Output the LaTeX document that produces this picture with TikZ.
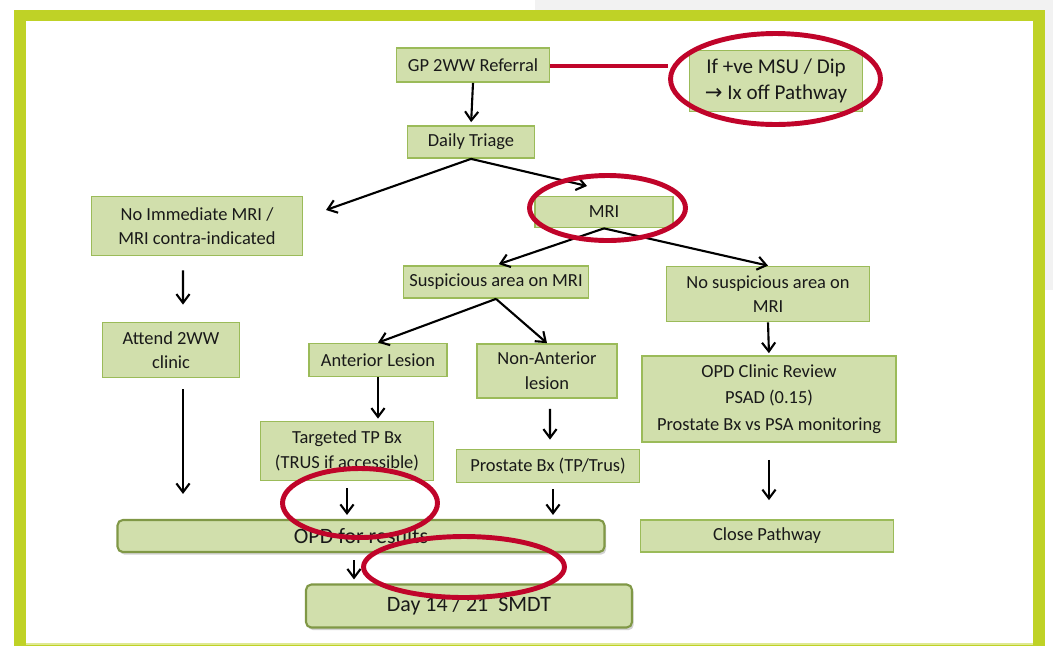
\documentclass[tikz,border=0pt]{standalone}
\usepackage{fontspec}
\setmainfont{Carlito}
\newfontfamily\arrowfont{DejaVu Sans}
\usetikzlibrary{positioning,calc,arrows.meta,shapes.geometric,shadows}

\definecolor{boxfill}{RGB}{209,223,172}
\definecolor{boxline}{RGB}{155,187,89}
\definecolor{boxdark}{RGB}{128,152,70}
\definecolor{frameg}{RGB}{191,210,38}
\definecolor{ringred}{RGB}{192,4,42}
\definecolor{pagegray}{RGB}{242,242,242}

\tikzset{
  box/.style={draw=boxline, fill=boxfill, line width=1pt, inner sep=0pt, align=center,
    text=black!90, font=\fontsize{10.5}{14}\selectfont},
  bigbox/.style={box, rounded corners=3pt, draw=boxdark, line width=1.2pt,
    font=\fontsize{12.5}{15}\selectfont,
    drop shadow={opacity=0.35, shadow xshift=1pt, shadow yshift=-1.5pt}},
  arr/.style={-{Straight Barb[length=5pt,width=7.5pt]}, line width=1.2pt},
  ring/.style 2 args={ellipse, draw=ringred, line width=2.8pt, inner sep=0pt,
    minimum width=#1, minimum height=#2},
}

\begin{document}
\begin{tikzpicture}[x=0.02cm, y=-0.02cm]
                    \useasboundingbox (0,0) rectangle (1053,646);

                    % slide background and frame
                    \fill[pagegray] (535,0) rectangle (1053,10);
                    \fill[pagegray] (1045,0) rectangle (1053,290);
                    \fill[frameg] (14,10) rectangle (1045,646);
                    \fill[white] (26,21) rectangle (1033,643);
                    \draw[frameg!50, line width=1pt] (26,644) -- (1033,644);

                    % boxes
                    \node[box, minimum width=3.06cm, minimum height=0.68cm] (gp) at (473,65) {GP 2WW Referral};
                    \node[box, minimum width=3.46cm, minimum height=1.22cm, font=\fontsize{12}{15}\selectfont] (msu) at (776,81)
                        {If +ve MSU / Dip\\{\arrowfont\fontsize{12}{15}\selectfont →} Ix off Pathway};
                    \node[box, minimum width=2.54cm, minimum height=0.64cm] (triage) at (471,142) {Daily Triage};
                    \node[box, minimum width=4.22cm, minimum height=1.18cm] (nomri) at (197,226) {No Immediate MRI /\\MRI contra-indicated};
                    \node[box, minimum width=2.76cm, minimum height=0.62cm] (mri) at (604,212) {MRI};
                    \node[box, minimum width=3.70cm, minimum height=0.64cm] (susp) at (496,282) {Suspicious area on MRI};
                    \node[box, minimum width=4.06cm, minimum height=1.10cm] (nosusp) at (768,294) {No suspicious area on\\MRI};
                    \node[box, minimum width=2.74cm, minimum height=1.10cm] (attend) at (171,350) {Attend 2WW\\clinic};
                    \node[box, minimum width=2.76cm, minimum height=0.66cm] (ant) at (378,360) {Anterior Lesion};
                    \node[box, minimum width=2.80cm, minimum height=1.08cm] (nonant) at (547,371) {Non-Anterior\\lesion};
                    \node[box, minimum width=3.46cm, minimum height=1.18cm] (tp) at (347,451) {Targeted TP Bx\\(TRUS if accessible)};
                    \node[box, minimum width=3.66cm, minimum height=0.66cm] (pbx) at (548,466) {Prostate Bx (TP/Trus)};
                    \node[box, minimum width=5.08cm, minimum height=1.72cm, font=\fontsize{10.5}{15}\selectfont] (opdclin) at (769,399)
                        {OPD Clinic Review\\PSAD (0.15)\\Prostate Bx vs PSA monitoring};
                    \node[box, minimum width=5.06cm, minimum height=0.64cm] (close) at (767,536) {Close Pathway};
                    \node[bigbox, minimum width=9.74cm, minimum height=0.64cm] (opdres) at (361,536) {OPD for results};
                    \node[bigbox, minimum width=6.52cm, minimum height=0.86cm] (smdt) at (469,606) {Day 14 / 21~~SMDT};

                    % free ends of the triage split
                    \coordinate (tL) at (326,210);
                    \coordinate (tR) at (587,186);

                    % arrows
                    \draw[arr, shorten >=0.06cm] (gp.south) -- (triage.north);
                    \draw[arr] (triage.south) -- (tL);
                    \draw[arr] (triage.south) -- (tR);
                    \draw[arr, shorten >=0.06cm] (mri.south) -- (susp.north);
                    \draw[arr] (mri.south) -- (nosusp.north);
                    \draw[arr, shorten <=0.28cm, shorten >=0.34cm] ([xshift=-0.28cm]nomri.south) -- ([xshift=0.24cm]attend.north);
                    \draw[arr, shorten <=0.22cm, shorten >=0.5cm] ([xshift=0.24cm]attend.south) -- ([xshift=0.24cm]attend.south |- opdres.north);
                    \draw[arr] (susp.south) -- (ant.north);
                    \draw[arr] (susp.south) -- (nonant.north);
                    \draw[arr, shorten >=0.04cm] (ant.south) -- (ant.south |- tp.north);
                    \draw[arr, shorten <=0.2cm, shorten >=0.18cm] ([xshift=0.06cm]nonant.south) -- ([xshift=0.04cm]pbx.north);
                    \draw[arr, shorten <=0.14cm, shorten >=0.08cm] (tp.south) -- (tp.south |- opdres.north);
                    \draw[arr, shorten <=0.12cm, shorten >=0.08cm] ([xshift=0.1cm]pbx.south) -- ([xshift=0.1cm]pbx.south |- opdres.north);
                    \draw[arr, shorten <=0.14cm, shorten >=0.08cm] ([xshift=-0.14cm]opdres.south) -- ([xshift=-0.14cm]opdres.south |- smdt.north);
                    \draw[arr, shorten >=0.04cm] (nosusp.south) -- (opdclin.north);
                    \draw[arr, shorten <=0.34cm, shorten >=0.38cm] (opdclin.south) -- (opdclin.south |- close.north);

                    % red highlights
                    \node[ring={4.2cm}{1.82cm}] (ring1) at (775.5,79) {};
                    \node[ring={3.12cm}{1.3cm}] (ring2) at (607.5,208) {};
                    \node[ring={3.1cm}{1.38cm}] (ring3) at (360,503) {};
                    \node[ring={4.02cm}{1.22cm}] (ring4) at (464,567) {};
                    \draw[ringred, line width=2.8pt] ([yshift=-0.02cm]gp.east) -- ([yshift=-0.02cm]gp.east -| ring1.west);

                    \end{tikzpicture}
\end{document}
